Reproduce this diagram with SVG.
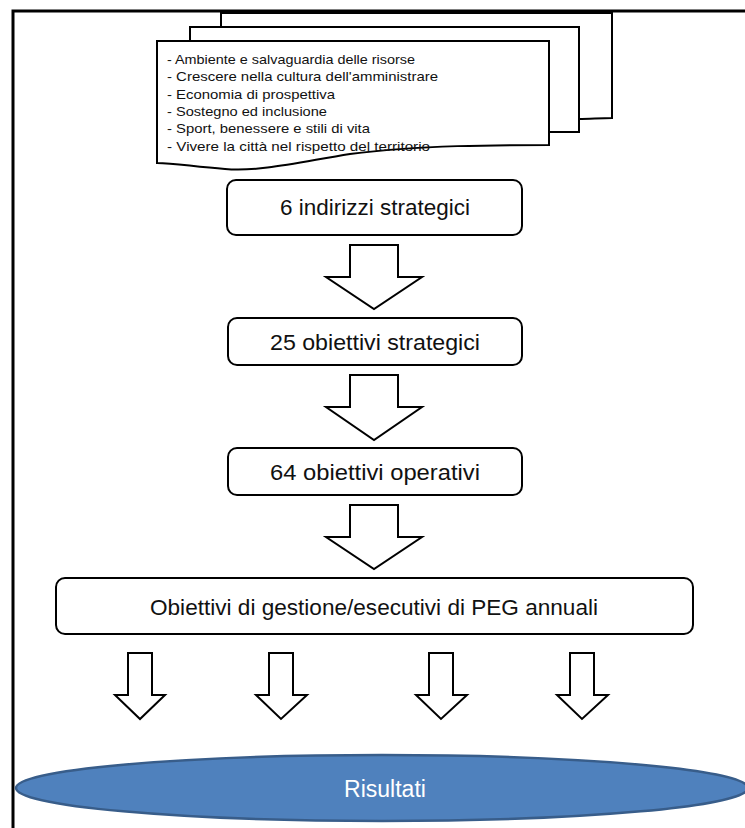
<svg xmlns="http://www.w3.org/2000/svg" width="745" height="828" viewBox="0 0 745 828">
<style>
.frame{stroke:#000;stroke-width:3;fill:none}
.page{fill:#fff;stroke:#000;stroke-width:2}
.box{fill:#fff;stroke:#000;stroke-width:2}
.arrow{fill:#fff;stroke:#000;stroke-width:2;stroke-linejoin:miter}
.doc{font-family:"Liberation Sans",Arial,sans-serif;font-size:13px;fill:#111}
.lbl{font-family:"Liberation Sans",Arial,sans-serif;font-size:22px;fill:#111;text-anchor:middle}
.res{font-family:"Liberation Sans",Arial,sans-serif;font-size:23px;fill:#fff;text-anchor:middle}
</style>
<rect width="745" height="828" fill="#fff"/>
<g id="frame">
<path class="frame" d="M13,828 V11 H745"/>
</g>
<g id="documents">
<path class="page" d="M221,13 H612 V118 C600,118 590,119 579,119 V27 H221 Z"/>
<path class="page" d="M190,27 H579 V132 C570,132 558,132 549,132 V41 H190 Z"/>
<path class="page" d="M157,41 H549 V145 C500,145 420,145 350,154 C300,162 260,172 225,169 C195,167 175,163 157,163 Z"/>
<text class="doc" x="167" y="64" textLength="248" lengthAdjust="spacingAndGlyphs">- Ambiente e salvaguardia delle risorse</text>
<text class="doc" x="167" y="81" textLength="271" lengthAdjust="spacingAndGlyphs">- Crescere nella cultura dell'amministrare</text>
<text class="doc" x="167" y="99" textLength="168" lengthAdjust="spacingAndGlyphs">- Economia di prospettiva</text>
<text class="doc" x="167" y="116" textLength="160" lengthAdjust="spacingAndGlyphs">- Sostegno ed inclusione</text>
<text class="doc" x="167" y="133" textLength="203" lengthAdjust="spacingAndGlyphs">- Sport, benessere e stili di vita</text>
<text class="doc" x="167" y="151" textLength="263" lengthAdjust="spacingAndGlyphs">- Vivere la città nel rispetto del territorio</text>
</g>
<g id="n1">
<rect class="box" x="227" y="180" width="295" height="55" rx="9"/>
<text class="lbl" x="375" y="215" textLength="190" lengthAdjust="spacingAndGlyphs">6 indirizzi strategici</text>
</g>
<g id="n2">
<rect class="box" x="228" y="318" width="294" height="47" rx="9"/>
<text class="lbl" x="375" y="350" textLength="210" lengthAdjust="spacingAndGlyphs">25 obiettivi strategici</text>
</g>
<g id="n3">
<rect class="box" x="228" y="448" width="294" height="47" rx="9"/>
<text class="lbl" x="375" y="480" textLength="210" lengthAdjust="spacingAndGlyphs">64 obiettivi operativi</text>
</g>
<g id="n4">
<rect class="box" x="56" y="578" width="637" height="56" rx="9"/>
<text class="lbl" x="374" y="615" textLength="448" lengthAdjust="spacingAndGlyphs">Obiettivi di gestione/esecutivi di PEG annuali</text>
</g>
<g id="n5">
<ellipse cx="382" cy="788" rx="366" ry="33" fill="#4F81BD" stroke="#385D8A" stroke-width="2.5"/>
<text class="res" x="385" y="797">Risultati</text>
</g>
<g id="connectors">
<path class="arrow" d="M350,245 H398 V277 H422 L374,309 L326,277 H350 Z"/>
<path class="arrow" d="M350,375 H398 V407 H422 L374,440 L326,407 H350 Z"/>
<path class="arrow" d="M350,505 H398 V537 H422 L374,569 L326,537 H350 Z"/>
<path class="arrow" d="M128,653 H152 V695 H165 L140,719 L115,695 H128 Z"/>
<path class="arrow" d="M269,653 H293 V695 H307 L281,719 L256,695 H269 Z"/>
<path class="arrow" d="M429,653 H453 V695 H467 L441,719 L416,695 H429 Z"/>
<path class="arrow" d="M570,653 H594 V695 H608 L582,719 L557,695 H570 Z"/>
</g>
</svg>
